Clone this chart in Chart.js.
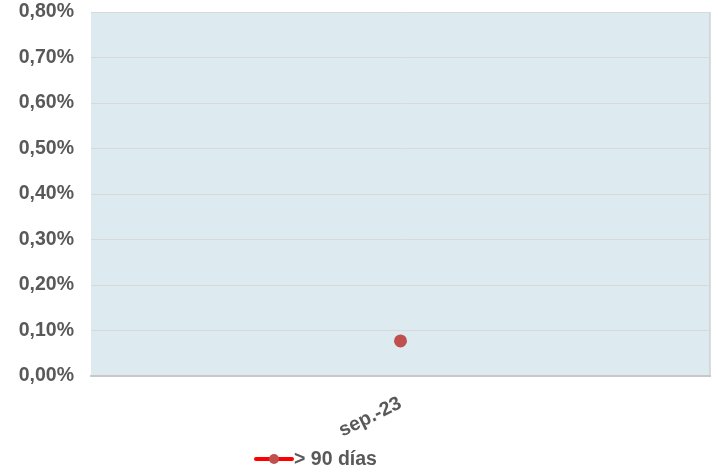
<!DOCTYPE html>
<html>
<head>
<meta charset="utf-8">
<script src="https://cdn.jsdelivr.net/npm/chart.js@4"></script>
<style>
  body { margin: 0; background: #fff; }
  #wrap { width: 718px; height: 473px; }
</style>
</head>
<body>
<div id="wrap"><canvas id="chart-mora"></canvas></div>
<script>
// datos
const categorias = ["sep.-23"];
const serie_label = "> 90 días";
const serie_valores = [0.077];
const eje_y_min = 0;
const eje_y_max = 0.8;
const eje_y_paso = 0.1;

const color_texto = "#595959";
const fuente = { family: "'Liberation Sans', Arial, sans-serif", size: 19.5, weight: "bold" };

// fondo del area de trazado y borde derecho
const fondo_plugin = {
    id: 'fondo',
    beforeDraw(chart) {
        const a = chart.chartArea;
        const ctx = chart.ctx;
        ctx.save();
        ctx.fillStyle = "#DDEBF1";
        ctx.fillRect(a.left, a.top, a.right - a.left, a.bottom - a.top);
        ctx.strokeStyle = "#D0D0D0";
        ctx.lineWidth = 1.5;
        ctx.beginPath();
        ctx.moveTo(a.right, a.top);
        ctx.lineTo(a.right, a.bottom);
        ctx.stroke();
        ctx.restore();
    }
};

// leyenda dibujada a mano debajo del eje
const leyenda_plugin = {
    id: 'leyenda',
    afterDraw(chart) {
        const ds = chart.data.datasets[0];
        const ctx = chart.ctx;
        const x = 256, y = 459;
        ctx.save();
        ctx.strokeStyle = ds.borderColor;
        ctx.lineWidth = 4;
        ctx.lineCap = 'round';
        ctx.beginPath();
        ctx.moveTo(x, y);
        ctx.lineTo(x + 36, y);
        ctx.stroke();
        ctx.fillStyle = ds.pointBackgroundColor;
        ctx.beginPath();
        ctx.arc(x + 18, y, 5, 0, Math.PI * 2);
        ctx.fill();
        ctx.fillStyle = color_texto;
        ctx.font = fuente.weight + " " + fuente.size + "px " + fuente.family;
        ctx.textBaseline = 'middle';
        ctx.fillText(ds.label, x + 38, y + 1);
        ctx.restore();
    }
};

const ctx_mora = document.getElementById('chart-mora');
const chart_mora = new Chart(ctx_mora, {
    type: 'line',
    data: {
        labels: categorias,
        datasets: [{
            label: serie_label,
            data: serie_valores,
            borderColor: "#FF0000",
            borderWidth: 3,
            pointBackgroundColor: "#C0504D",
            pointBorderColor: "#C0504D",
            pointRadius: 5,
            pointHoverRadius: 5,
        }],
    },
    options: {
        responsive: true,
        maintainAspectRatio: false,
        animation: false,
        layout: { padding: { top: 12, right: 8, left: 0, bottom: 0 } },
        plugins: {
            legend: { display: false },
            tooltip: { enabled: false },
        },
        scales: {
            x: {
                offset: true,
                grid: { display: false, drawTicks: false },
                border: { display: true, color: "#C8C8C8", width: 2 },
                ticks: {
                    color: color_texto,
                    font: fuente,
                    minRotation: 26,
                    maxRotation: 26,
                    padding: 16,
                },
                afterFit(scale) { scale.height = 97; },
            },
            y: {
                min: eje_y_min,
                max: eje_y_max,
                grid: { color: "#D9D9D9", lineWidth: 1, drawTicks: false },
                border: { display: false },
                ticks: {
                    stepSize: eje_y_paso,
                    color: color_texto,
                    font: fuente,
                    padding: 17,
                    callback: (v) => v.toFixed(2).replace('.', ',') + '%',
                },
                afterFit(scale) {
                    scale.width = 91;
                    scale.paddingTop = 0;
                    scale.paddingBottom = 0;
                },
            },
        },
    },
    plugins: [fondo_plugin, leyenda_plugin],
});
</script>
</body>
</html>
